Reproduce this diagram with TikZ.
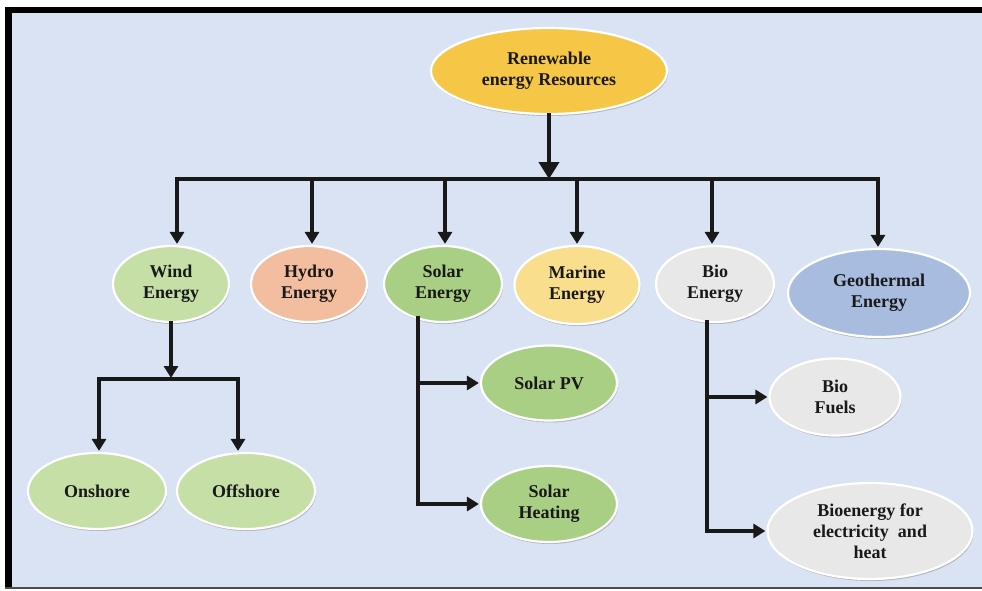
\documentclass[tikz,border=0pt]{standalone}
\usepackage{fontspec}
\setmainfont{Liberation Serif}
\usetikzlibrary{shapes.geometric,arrows.meta,shadows}

\definecolor{bgblue}{HTML}{DAE3F3}
\definecolor{rootyellow}{HTML}{F6C646}
\definecolor{windgreen}{HTML}{C5DFA6}
\definecolor{hydropeach}{HTML}{F3BE9F}
\definecolor{solargreen}{HTML}{A8CF84}
\definecolor{marineyellow}{HTML}{F9DE8E}
\definecolor{biogray}{HTML}{E8E8E8}
\definecolor{geoblue}{HTML}{A7BCDF}

\tikzset{
    res/.style={ellipse, draw=white, line width=2.2pt, inner sep=0pt, align=center,
        text=black!90, font=\bfseries\fontsize{18}{21}\selectfont,
        drop shadow={shadow xshift=1pt, shadow yshift=-2pt, fill=black!45, opacity=0.5}},
    conn/.style={line width=4pt, draw=black!90, line cap=rect},
    flow/.style={conn, -{Triangle[width=14pt,length=12pt]}, shorten >=1pt},
}

\begin{document}
\begin{tikzpicture}[x=1pt, y=-1pt]
    \useasboundingbox (0,0) rectangle (982,591);

    % frame and background
    \fill[white] (0,0) rectangle (982,591);
    \fill[bgblue] (12,13) rectangle (982,588);
    \fill[black] (5,7) rectangle (982,13);
    \fill[black] (5,7) rectangle (12,588);
    \fill[black!70] (5,587) rectangle (982,589);

    % top node
    \node[res, fill=rootyellow, minimum width=236pt, minimum height=86pt] (root) at (549, 71) {Renewable\\energy Resources};

    % resources
    \node[res, fill=windgreen, minimum width=116pt, minimum height=76pt] (wind) at (171, 284) {Wind\\Energy};
    \node[res, fill=hydropeach, minimum width=116pt, minimum height=76pt] (hydro) at (309, 284) {Hydro\\Energy};
    \node[res, fill=solargreen, minimum width=118pt, minimum height=76pt] (solar) at (443, 284) {Solar\\Energy};
    \node[res, fill=marineyellow, minimum width=125pt, minimum height=78pt] (marine) at (577, 285) {Marine\\Energy};
    \node[res, fill=biogray, minimum width=118pt, minimum height=76pt] (bio) at (715, 284) {Bio\\Energy};
    \node[res, fill=geoblue, minimum width=182pt, minimum height=88pt] (geo) at (879, 293) {Geothermal\\Energy};

    % sub nodes
    \node[res, fill=windgreen, minimum width=138pt, minimum height=76pt] (onshore) at (97, 491) {Onshore};
    \node[res, fill=windgreen, minimum width=138pt, minimum height=76pt] (offshore) at (246, 491) {Offshore};
    \node[res, fill=solargreen, minimum width=136pt, minimum height=75pt] (solarpv) at (549, 383) {Solar PV};
    \node[res, fill=solargreen, minimum width=136pt, minimum height=76pt] (solarheat) at (549, 504) {Solar\\Heating};
    \node[res, fill=biogray, minimum width=131pt, minimum height=77pt] (biofuel) at (835, 397) {Bio\\Fuels};
    \node[res, fill=biogray, minimum width=205pt, minimum height=96pt] (bioelec) at (870, 531) {Bioenergy for\\electricity~ and\\heat};

    % main split
    \coordinate (hub) at (549, 179);
    \coordinate (hubW) at (177, 179);
    \coordinate (hubH) at (312, 179);
    \coordinate (hubS) at (445, 179);
    \coordinate (hubM) at (577, 179);
    \coordinate (hubB) at (712, 179);
    \coordinate (hubG) at (878, 179);
    \draw[conn, -{Triangle[width=20pt,length=17pt]}] (root) -- (hub);
    \draw[conn] (hubW) -- (hubG);
    \draw[flow] (hubW) -- (hubW |- wind.north);
    \draw[flow] (hubH) -- (hubH |- hydro.north);
    \draw[flow] (hubS) -- (hubS |- solar.north);
    \draw[flow] (hubM) -- (hubM |- marine.north);
    \draw[flow] (hubB) -- (hubB |- bio.north);
    \draw[flow] (hubG) -- (hubG |- geo.north);

    % wind split
    \coordinate (windHub) at (171, 379);
    \coordinate (onHub) at (99, 379);
    \coordinate (offHub) at (238, 379);
    \draw[flow] (wind) -- (windHub);
    \draw[conn] (onHub) -- (offHub);
    \draw[flow] (onHub) -- (onHub |- onshore.north);
    \draw[flow] (offHub) -- (offHub |- offshore.north);

    % solar branches
    \coordinate (solarTap) at (418, 318);
    \draw[flow] (solarTap) |- (solarheat.west);
    \draw[flow] (solarTap |- solarpv.west) -- (solarpv.west);

    % bio branches
    \coordinate (bioTap) at (707, 322);
    \draw[flow] (bioTap) |- (bioelec.west);
    \draw[flow] (bioTap |- biofuel.west) -- (biofuel.west);
\end{tikzpicture}
\end{document}
